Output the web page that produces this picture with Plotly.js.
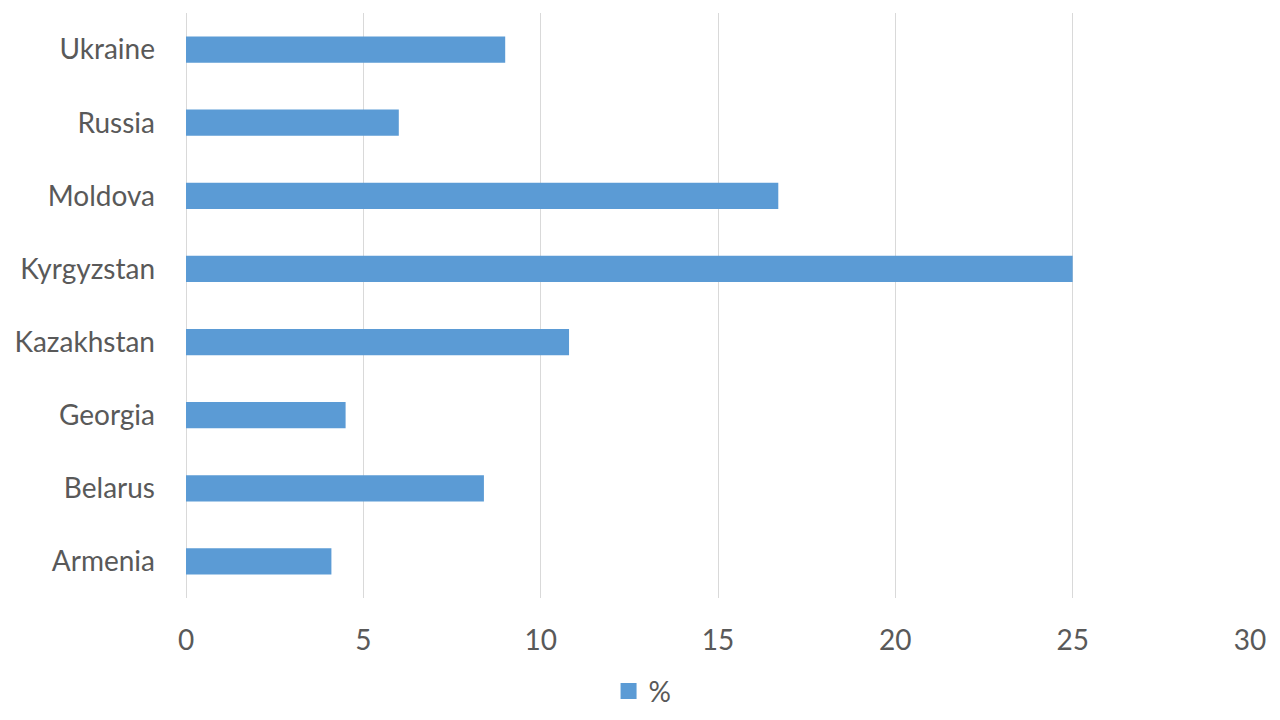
<!DOCTYPE html>
<html>
<head>
<meta charset="utf-8">
<script src="https://cdn.plot.ly/plotly-3.0.1.min.js"></script>
<style>html,body{margin:0;padding:0;background:#fff;}#chart{width:1280px;height:720px;}</style>
</head>
<body>
<div id="chart"></div>
<script>
const countries = ["Armenia", "Belarus", "Georgia", "Kazakhstan", "Kyrgyzstan", "Moldova", "Russia", "Ukraine"];
const percent = [4.1, 8.4, 4.5, 10.8, 25, 16.7, 6, 9];
const xTicks = [0, 5, 10, 15, 20, 25, 30];
const seriesName = "%";
const barColor = "#5B9BD5";

const barTrace = {
  type: "bar",
  orientation: "h",
  y: countries,
  x: percent,
  name: seriesName,
  marker: {color: barColor},
  showlegend: false,
  hoverinfo: "x+y"
};

// legend entry only (larger square swatch like the reference)
const legendTrace = {
  type: "scatter",
  mode: "markers",
  x: [null],
  y: [null],
  name: seriesName,
  marker: {symbol: "square", size: 16, color: barColor},
  showlegend: true,
  hoverinfo: "skip"
};

const fontSize = 28;

const layout = {
  width: 1280,
  height: 720,
  paper_bgcolor: "#ffffff",
  plot_bgcolor: "#ffffff",
  margin: {l: 186, r: 30, t: 13, b: 122},
  font: {family: "Lato, 'Open Sans', sans-serif", size: fontSize, color: "#595959"},
  bargap: 0.64,
  xaxis: {
    range: [0, 30],
    tickvals: xTicks,
    ticktext: xTicks.map(String),
    showgrid: true,
    gridcolor: "#D9D9D9",
    gridwidth: 1,
    zeroline: true,
    zerolinecolor: "#D9D9D9",
    zerolinewidth: 1,
    showline: false,
    ticks: "",
    ticklabelstandoff: 23,
    tickfont: {size: fontSize, color: "#595959"},
    fixedrange: true
  },
  yaxis: {
    categoryorder: "array",
    categoryarray: countries,
    showgrid: false,
    zeroline: false,
    showline: false,
    ticks: "",
    ticklabelstandoff: 30,
    tickfont: {size: fontSize, color: "#595959"},
    fixedrange: true
  },
  showlegend: true,
  legend: {
    orientation: "h",
    xref: "container",
    yref: "container",
    x: 0.502,
    xanchor: "center",
    y: 0.04,
    yanchor: "middle",
    font: {size: fontSize, color: "#595959"},
    bgcolor: "rgba(0,0,0,0)",
    itemwidth: 30
  }
};

Plotly.newPlot("chart", [barTrace, legendTrace], layout, {displayModeBar: false, staticPlot: true});
</script>
</body>
</html>
